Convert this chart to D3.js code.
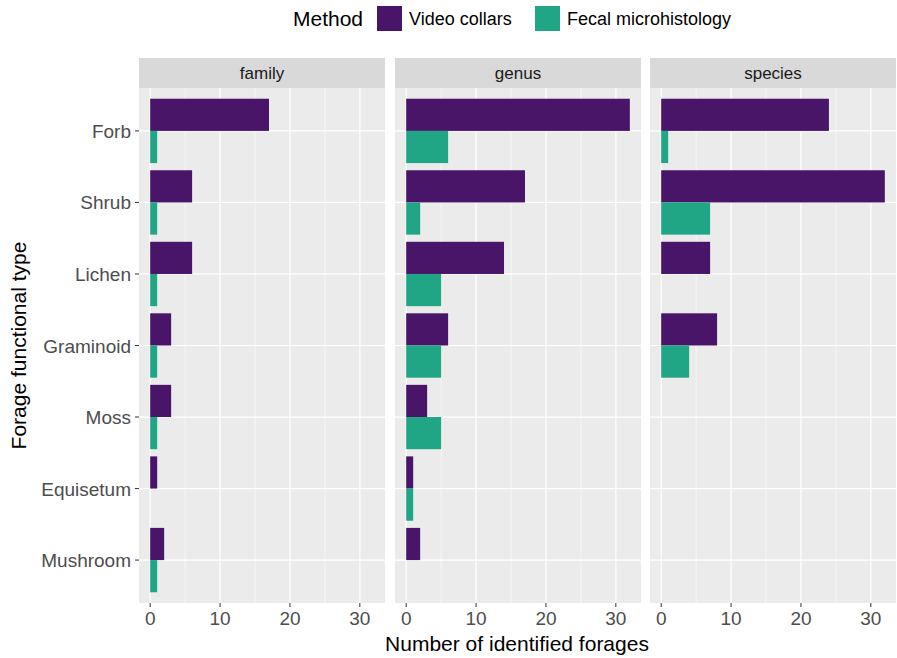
<!DOCTYPE html>
<html><head><meta charset="utf-8">
<script src="https://cdn.jsdelivr.net/npm/d3@7"></script>
<style>body{margin:0;background:#fff}text{font-family:Arial,"Liberation Sans",sans-serif}</style>
</head><body>
<svg id="chart" width="897" height="658"></svg>
<script>
// data
var types = ["Forb", "Shrub", "Lichen", "Graminoid", "Moss", "Equisetum", "Mushroom"];
var panels = ["family", "genus", "species"];
var methods = ["Video collars", "Fecal microhistology"];
var colors = ["#481568", "#21A685"];
// null = no bar
var videoFamily = [17, 6, 6, 3, 3, 1, 2];
var fecalFamily = [1, 1, 1, 1, 1, null, 1];
var videoGenus = [32, 17, 14, 6, 3, 1, 2];
var fecalGenus = [6, 2, 5, 5, 5, 1, null];
var videoSpecies = [24, 32, 7, 8, null, null, null];
var fecalSpecies = [1, 7, null, 4, null, null, null];
var xTicks = [0, 10, 20, 30];

var series = {
  family: [videoFamily, fecalFamily],
  genus: [videoGenus, fecalGenus],
  species: [videoSpecies, fecalSpecies]
};

var svg = d3.select("#chart");
var plotTop = 88, plotBottom = 603, stripH = 30;
var panelX = [139, 395, 650], panelW = 246;

// discrete axis with 0.6 expansion on each side, like ggplot
var y = d3.scalePoint().domain(types).range([plotTop, plotBottom]).padding(0.6);
var step = y.step();
var bw = step * 0.9;

panels.forEach(function(p, pi) {
  var g = svg.append("g").attr("transform", "translate(" + panelX[pi] + ",0)");
  var x = d3.scaleLinear().domain([-1.6, 33.6]).range([0, panelW]);
  g.append("rect").attr("y", plotTop).attr("width", panelW).attr("height", plotBottom - plotTop).attr("fill", "#ebebeb");
  g.append("rect").attr("y", plotTop - stripH).attr("width", panelW).attr("height", stripH).attr("fill", "#d9d9d9");
  g.append("text").attr("x", panelW / 2).attr("y", plotTop - stripH / 2 + 6).attr("text-anchor", "middle")
    .attr("font-size", 17).attr("fill", "#1a1a1a").text(p);
  [5, 15, 25].forEach(function(v) {
    g.append("line").attr("x1", x(v)).attr("x2", x(v)).attr("y1", plotTop).attr("y2", plotBottom)
      .attr("stroke", "#fff").attr("stroke-width", 0.6);
  });
  xTicks.forEach(function(v) {
    g.append("line").attr("x1", x(v)).attr("x2", x(v)).attr("y1", plotTop).attr("y2", plotBottom)
      .attr("stroke", "#fff").attr("stroke-width", 1.2);
    g.append("line").attr("x1", x(v)).attr("x2", x(v)).attr("y1", plotBottom).attr("y2", plotBottom + 4)
      .attr("stroke", "#333").attr("stroke-width", 1);
    g.append("text").attr("x", x(v)).attr("y", plotBottom + 22).attr("text-anchor", "middle")
      .attr("font-size", 19).attr("fill", "#4d4d4d").text(v);
  });
  types.forEach(function(t) {
    g.append("line").attr("x1", 0).attr("x2", panelW).attr("y1", y(t)).attr("y2", y(t))
      .attr("stroke", "#fff").attr("stroke-width", 1.2);
  });
  series[p].forEach(function(vals, mi) {
    vals.forEach(function(v, i) {
      if (v == null) return;
      var yy = y(types[i]) - bw / 2 + mi * bw / 2;
      g.append("rect").attr("x", x(0)).attr("y", yy).attr("width", x(v) - x(0)).attr("height", bw / 2)
        .attr("fill", colors[mi]);
    });
  });
});

// y axis
types.forEach(function(t) {
  svg.append("line").attr("x1", 135).attr("x2", 139).attr("y1", y(t)).attr("y2", y(t)).attr("stroke", "#333");
  svg.append("text").attr("x", 131).attr("y", y(t) + 7).attr("text-anchor", "end")
    .attr("font-size", 19).attr("fill", "#4d4d4d").text(t);
});
svg.append("text").attr("transform", "translate(26," + ((plotTop + plotBottom) / 2) + ") rotate(-90)")
  .attr("text-anchor", "middle").attr("font-size", 21).attr("fill", "#000").text("Forage functional type");
svg.append("text").attr("x", 517).attr("y", 651).attr("text-anchor", "middle")
  .attr("font-size", 21).attr("fill", "#000").text("Number of identified forages");

// legend
svg.append("text").attr("x", 293).attr("y", 26).attr("font-size", 21).text("Method");
var lx = [377, 535];
methods.forEach(function(m, i) {
  svg.append("rect").attr("x", lx[i]).attr("y", 6).attr("width", 25).attr("height", 25).attr("fill", colors[i]);
  svg.append("text").attr("x", lx[i] + 32).attr("y", 25).attr("font-size", 18).attr("fill", "#000").text(m);
});
</script>
</body></html>
